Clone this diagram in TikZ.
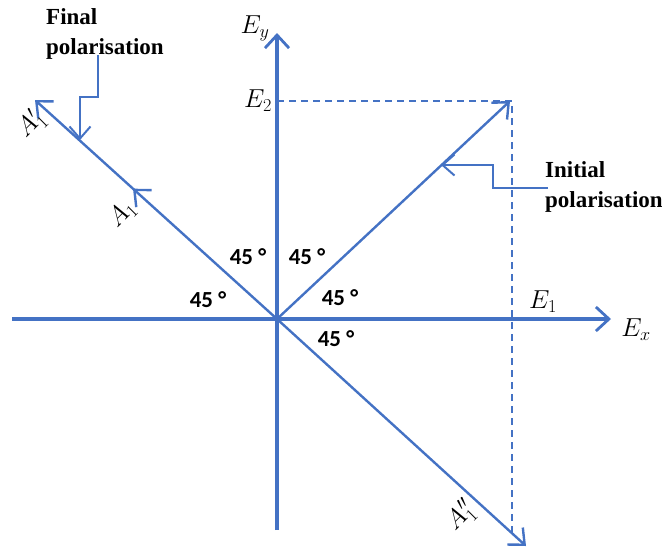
\RequirePackage{fix-cm}
\documentclass[tikz,border=0pt]{standalone}
\usepackage{fontspec}
\setmainfont{Liberation Serif}
\newfontfamily\calfont{Carlito}
\usetikzlibrary{arrows.meta,decorations.markings}
\definecolor{ob}{HTML}{4472C4}
\begin{document}
\begin{tikzpicture}[x=1pt,y=-1pt,
  axis/.style={draw=ob, line width=3.4pt, -{Straight Barb[length=13pt,width=24pt,line width=2.8pt]}},
  ray/.style={draw=ob, line width=2.4pt, -{Straight Barb[length=13pt,width=23pt,line width=2.4pt]}},
  guide/.style={draw=ob, line width=2.2pt, dash pattern=on 7pt off 5pt},
  pointer/.style={draw=ob, line width=2pt, -{Straight Barb[length=12pt,width=21pt,line width=2pt]}},
  lbl/.style={font=\fontsize{26}{30}\selectfont, inner sep=0pt},
  ann/.style={font=\bfseries\fontsize{23}{30}\selectfont, align=left, inner sep=0pt},
  ang/.style={font=\calfont\bfseries\fontsize{23}{26}\selectfont, inner sep=0pt}]
\useasboundingbox (0,0) rectangle (662,547);
% key points
\coordinate (O) at (277,319);
\coordinate (xl) at (12,319);
\coordinate (xr) at (611,319);
\coordinate (yb) at (277,530);
\coordinate (yt) at (277,33);
\coordinate (P) at (510,101);
\coordinate (Q) at (35,100);
\coordinate (R) at (526,546);
\coordinate (E2p) at (277,101);
\coordinate (Dt) at (512,101);
\coordinate (Db) at (512,535);
% dashed guides
\draw[guide] (E2p) -- (Dt) -- (Db);
% axes
\draw[axis] (xl) -- (xr);
\draw[axis] (yb) -- (yt);
% rays
\draw[ray] (O) -- (P);
\draw[ray, postaction={decorate}, decoration={markings,
  mark=at position 0.595 with {\arrow{Straight Barb[length=13pt,width=23pt,line width=2.4pt]}}}] (O) -- (Q);
\draw[ray] (O) -- (R);
% axis labels
\node[lbl] (Ey) at (255,28) {$E_y$};
\node[lbl] (E2) at (258,101) {$E_2$};
\node[lbl] (E1) at (543,302) {$E_1$};
\node[lbl] (Ex) at (636,330) {$E_x$};
\node[lbl, rotate=45] (A1p) at (31,124) {$A_1'$};
\node[lbl, rotate=45] (A1) at (122,214) {$A_1$};
\node[lbl, rotate=45] (A1pp) at (461,516) {$A_1''$};
% angle labels
\node[ang] (a1) at (248,257) {45 \textdegree};
\node[ang] (a2) at (307,257) {45 \textdegree};
\node[ang] (a3) at (208,300) {45 \textdegree};
\node[ang] (a4) at (340,298) {45 \textdegree};
\node[ang] (a5) at (336,339) {45 \textdegree};
% annotations
\node[ann, anchor=north west] (fin) at (46,8) {Final\\polarisation};
\node[ann, anchor=north west] (ini) at (545,161) {Initial\\polarisation};
\coordinate (f1) at (98,55);
\coordinate (f2) at (98,97);
\coordinate (f3) at (80,97);
\coordinate (f4) at (80,140);
\draw[pointer] (f1) -- (f2) -- (f3) -- (f4);
\coordinate (i1) at (548,188);
\coordinate (i2) at (493,188);
\coordinate (i3) at (493,165);
\coordinate (i4) at (441,165);
\draw[pointer] (i1) -- (i2) -- (i3) -- (i4);
\end{tikzpicture}
\end{document}
